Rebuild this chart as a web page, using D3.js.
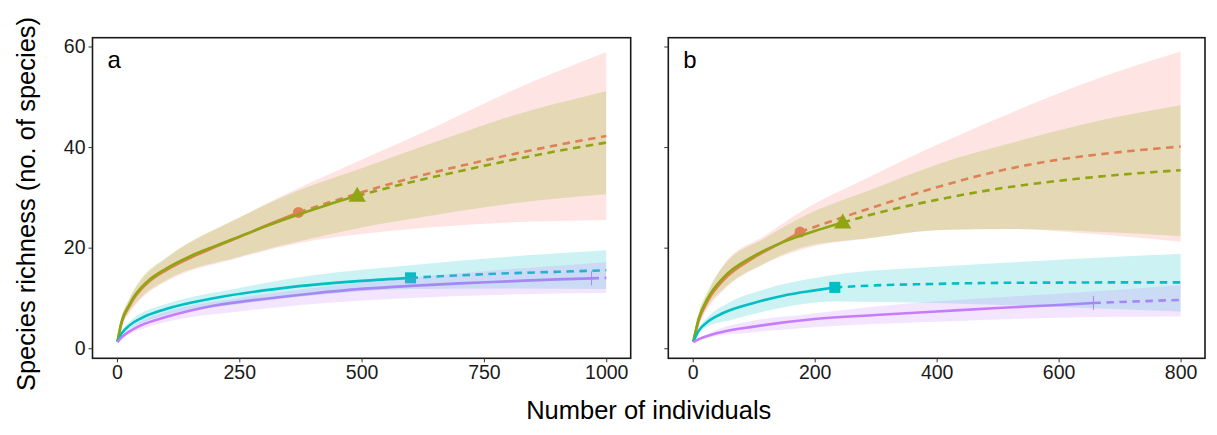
<!DOCTYPE html>
<html>
<head>
<meta charset="utf-8">
<script src="https://cdn.jsdelivr.net/npm/d3@7"></script>
<style>
  body { margin: 0; background: #fff; }
  svg { font-family: "Liberation Sans", Arial, sans-serif; }
</style>
</head>
<body>
<svg id="chart" width="1217" height="435"></svg>
<script>
// ---- colours (ggplot hue palette) ----
const groupColors = ['#F8766D', '#7CAE00', '#00BFC4', '#C77CFF'];
const groupShapes = ['circle', 'triangle', 'square', 'plus'];

// ---- panel a ----
const aXTicks = [0, 250, 500, 750, 1000];
// red
const aRedObsN = [1, 10, 25, 35, 50, 70, 100, 150, 200, 250, 300, 371];
const aRedObsS = [1.3, 5.2, 8.3, 10, 11.8, 13.6, 15.5, 18, 20.1, 22.1, 24.2, 27];
const aRedExtN = [371, 450, 500, 600, 700, 800, 900, 1000];
const aRedExtS = [27, 29.5, 31, 33.8, 36.2, 38.4, 40.4, 42.2];
const aRedBandN = [1, 10, 25, 50, 100, 250, 375, 500, 650, 800, 1000];
const aRedLo = [1.3, 4.4, 7, 9.9, 13.2, 18, 21, 22.7, 24.1, 25, 25.5];
const aRedHi = [1.3, 6, 9.6, 13.6, 17.8, 26, 32, 37.5, 44, 50.9, 58.9];
// green
const aGrnObsN = [1, 10, 25, 35, 50, 70, 100, 150, 200, 250, 300, 371, 430, 491];
const aGrnObsS = [1.3, 5.5, 8.6, 10.3, 12.1, 13.9, 15.8, 18.3, 20.3, 22.2, 24.1, 26.6, 28.5, 30.3];
const aGrnExtN = [491, 600, 700, 800, 900, 1000];
const aGrnExtS = [30.3, 33, 35.2, 37.3, 39.2, 40.9];
const aGrnBandN = [1, 10, 25, 50, 100, 250, 375, 500, 650, 800, 1000];
const aGrnLo = [1.3, 4.6, 7.3, 10.2, 13.5, 18.2, 21.3, 24, 26.5, 28.7, 30.6];
const aGrnHi = [1.3, 6.3, 9.9, 13.9, 18, 26, 31.5, 35.8, 41, 46, 51.1];
// cyan
const aCyaObsN = [1, 10, 25, 50, 100, 200, 300, 400, 500, 600];
const aCyaObsS = [1.3, 3, 4.5, 6, 7.8, 10, 11.5, 12.6, 13.4, 14];
const aCyaExtN = [600, 700, 800, 900, 1000];
const aCyaExtS = [14, 14.5, 14.9, 15.2, 15.5];
const aCyaBandN = [1, 10, 25, 50, 100, 250, 400, 600, 800, 1000];
const aCyaLo = [1.3, 2.6, 3.8, 5, 6.6, 8.8, 10.5, 11.8, 11.9, 11.8];
const aCyaHi = [1.3, 3.4, 5.2, 7, 8.8, 12, 14.5, 16.5, 18.2, 19.5];
// purple
const aPurObsN = [1, 10, 25, 50, 100, 200, 300, 400, 500, 600, 700, 800, 900, 970];
const aPurObsS = [1.2, 2.2, 3.3, 4.6, 6.2, 8.5, 9.8, 10.9, 11.8, 12.4, 12.9, 13.3, 13.7, 13.9];
const aPurExtN = [970, 1000];
const aPurExtS = [13.9, 14.0];
const aPurBandN = [1, 10, 25, 50, 100, 250, 400, 600, 800, 1000];
const aPurLo = [1.2, 1.9, 2.8, 3.8, 5.2, 7.3, 8.8, 10, 10.7, 11.0];
const aPurHi = [1.2, 2.5, 3.8, 5.4, 7.2, 10, 12, 14, 15.7, 17.1];

// ---- panel b ----
const bXTicks = [0, 200, 400, 600, 800];
const bRedObsN = [1, 10, 25, 50, 100, 150, 176];
const bRedObsS = [1.3, 5.5, 9.5, 13.5, 18, 21.3, 23.1];
const bRedExtN = [176, 250, 300, 400, 500, 600, 700, 800];
const bRedExtS = [23.1, 26.2, 28.2, 32, 35.2, 37.5, 39, 40.1];
const bRedBandN = [1, 10, 25, 50, 120, 178, 292, 407, 522, 636, 800];
const bRedLo = [1.3, 4.6, 8, 11.5, 16.9, 19.6, 21.9, 23.5, 23.7, 22.9, 21.2];
const bRedHi = [1.3, 6.4, 11, 16.5, 22.5, 27.2, 34.2, 40.8, 46.8, 52.4, 59.0];

const bGrnObsN = [1, 10, 25, 50, 100, 150, 200, 246];
const bGrnObsS = [1.3, 6, 10, 14, 18.3, 21.2, 23.3, 25];
const bGrnExtN = [246, 300, 400, 500, 600, 700, 800];
const bGrnExtS = [25, 26.8, 29.5, 31.7, 33.3, 34.5, 35.4];
const bGrnBandN = [1, 10, 25, 50, 120, 178, 292, 407, 522, 636, 800];
const bGrnLo = [1.3, 5, 8.5, 11.8, 17, 20, 21.9, 23.5, 23.7, 23.3, 22.3];
const bGrnHi = [1.3, 7, 11.5, 16.3, 22, 26, 31.5, 36.8, 40.8, 44.4, 48.3];

const bCyaObsN = [1, 10, 25, 50, 100, 150, 200, 233];
const bCyaObsS = [1.3, 3.5, 5.3, 7, 9, 10.5, 11.5, 12.1];
const bCyaExtN = [233, 300, 400, 500, 600, 700, 800];
const bCyaExtS = [12.1, 12.5, 12.8, 13, 13.05, 13.1, 13.1];
const bCyaBandN = [1, 10, 25, 63, 120, 233, 400, 600, 800];
const bCyaLo = [1.3, 3, 4.3, 5.6, 7.4, 9.3, 9.0, 8.2, 7.3];
const bCyaHi = [1.3, 4, 6.2, 9.3, 11.8, 14.6, 16.2, 17.6, 18.8];

const bPurObsN = [1, 10, 25, 50, 100, 200, 300, 400, 500, 600, 657];
const bPurObsS = [1.2, 1.8, 2.5, 3.3, 4.3, 5.8, 6.6, 7.3, 8, 8.6, 9.0];
const bPurExtN = [657, 700, 800];
const bPurExtS = [9.0, 9.2, 9.6];
const bPurBandN = [1, 25, 100, 178, 300, 407, 522, 657, 800];
const bPurLo = [1.2, 2.1, 3.2, 4.0, 4.8, 5.3, 5.8, 6.2, 6.3];
const bPurHi = [1.2, 2.9, 5.5, 6.6, 8.3, 9.4, 10.3, 11.3, 12.6];

const yTicks = [0, 20, 40, 60];

function zip(xs, ys) { return xs.map((x, i) => [x, ys[i]]); }
function band(xs, lo, hi) { return xs.map((x, i) => [x, lo[i], hi[i]]); }

function series(obsN, obsS, extN, extS, bandN, lo, hi) {
	return { obs: zip(obsN, obsS), ext: zip(extN, extS), band: band(bandN, lo, hi) };
}

const panelA = {
	label: 'a', xMax: 1000, ticks: aXTicks, left: 92.5, right: 630.7, showYLabels: true,
	groups: [
		series(aRedObsN, aRedObsS, aRedExtN, aRedExtS, aRedBandN, aRedLo, aRedHi),
		series(aGrnObsN, aGrnObsS, aGrnExtN, aGrnExtS, aGrnBandN, aGrnLo, aGrnHi),
		series(aCyaObsN, aCyaObsS, aCyaExtN, aCyaExtS, aCyaBandN, aCyaLo, aCyaHi),
		series(aPurObsN, aPurObsS, aPurExtN, aPurExtS, aPurBandN, aPurLo, aPurHi)
	]
};
const panelB = {
	label: 'b', xMax: 800, ticks: bXTicks, left: 668.3, right: 1205, showYLabels: false,
	groups: [
		series(bRedObsN, bRedObsS, bRedExtN, bRedExtS, bRedBandN, bRedLo, bRedHi),
		series(bGrnObsN, bGrnObsS, bGrnExtN, bGrnExtS, bGrnBandN, bGrnLo, bGrnHi),
		series(bCyaObsN, bCyaObsS, bCyaExtN, bCyaExtS, bCyaBandN, bCyaLo, bCyaHi),
		series(bPurObsN, bPurObsS, bPurExtN, bPurExtS, bPurBandN, bPurLo, bPurHi)
	]
};

const svg = d3.select('#chart');
const plotTop = 37.7, plotBottom = 358.3;
const tickFont = 19.5;

// shared y scale (ggplot 5% expansion around the data)
const yScale = d3.scaleLinear().domain([-2, 61.75]).range([plotBottom, plotTop]);

function drawPanel(p) {
	const xScale = d3.scaleLinear()
		.domain([-p.xMax * 0.05, p.xMax * 1.05])
		.range([p.left, p.right]);

	const g = svg.append('g');
	const clipId = 'clip-' + p.label;
	svg.append('clipPath').attr('id', clipId)
		.append('rect')
		.attr('x', p.left).attr('y', plotTop)
		.attr('width', p.right - p.left).attr('height', plotBottom - plotTop);

	const plot = g.append('g').attr('clip-path', `url(#${clipId})`);

	const line = d3.line()
		.x(d => xScale(d[0])).y(d => yScale(d[1]))
		.curve(d3.curveMonotoneX);
	const area = d3.area()
		.x(d => xScale(d[0])).y0(d => yScale(d[1])).y1(d => yScale(d[2]))
		.curve(d3.curveMonotoneX);

	// lines first, ribbons are painted over them (as in the original)
	p.groups.forEach(function(s, i){
		plot.append('path')
			.attr('d', line(s.ext))
			.attr('fill', 'none')
			.attr('stroke', groupColors[i])
			.attr('stroke-width', 2.6)
			.attr('stroke-dasharray', '7.5,5.5');
		plot.append('path')
			.attr('d', line(s.obs))
			.attr('fill', 'none')
			.attr('stroke', groupColors[i])
			.attr('stroke-width', 2.6);

		// marker at the observed sample size
		const last = s.obs[s.obs.length - 1];
		const mx = xScale(last[0]), my = yScale(last[1]);
		const shape = groupShapes[i];
		if (shape === 'circle') {
			plot.append('circle').attr('cx', mx).attr('cy', my).attr('r', 5.5)
				.attr('fill', groupColors[i]);
		} else if (shape === 'triangle') {
			plot.append('path')
				.attr('d', d3.symbol(d3.symbolTriangle, 130)())
				.attr('transform', `translate(${mx},${my + 1})`)
				.attr('fill', groupColors[i]);
		} else if (shape === 'square') {
			plot.append('rect').attr('x', mx - 5.5).attr('y', my - 5.5)
				.attr('width', 11).attr('height', 11)
				.attr('fill', groupColors[i]);
		} else {
			plot.append('path')
				.attr('d', `M${mx - 6},${my} L${mx + 6},${my} M${mx},${my - 7} L${mx},${my + 7}`)
				.attr('stroke', groupColors[i]).attr('stroke-width', 1);
		}
	});

	p.groups.forEach(function(s, i){
		plot.append('path')
			.attr('d', area(s.band))
			.attr('fill', groupColors[i])
			.attr('fill-opacity', 0.2);
	});

	// frame
	g.append('rect')
		.attr('x', p.left).attr('y', plotTop)
		.attr('width', p.right - p.left).attr('height', plotBottom - plotTop)
		.attr('fill', 'none').attr('stroke', '#1a1a1a').attr('stroke-width', 1.6);

	// axes
	const xAxis = d3.axisBottom(xScale).tickValues(p.ticks).tickFormat(d3.format('d'))
		.tickSize(4).tickPadding(2.5);
	const gx = g.append('g').attr('transform', `translate(0,${plotBottom})`).call(xAxis);
	gx.select('.domain').remove();
	gx.selectAll('.tick line').attr('stroke', '#333');
	gx.selectAll('.tick text').attr('font-size', tickFont).attr('fill', '#1a1a1a')
		.attr('font-family', '"Liberation Sans", Arial, sans-serif');

	const yAxis = d3.axisLeft(yScale).tickValues(yTicks).tickSize(4).tickPadding(3);
	if (!p.showYLabels) yAxis.tickFormat('');
	const gy = g.append('g').attr('transform', `translate(${p.left},0)`).call(yAxis);
	gy.select('.domain').remove();
	gy.selectAll('.tick line').attr('stroke', '#333');
	gy.selectAll('.tick text').attr('font-size', tickFont).attr('fill', '#1a1a1a')
		.attr('font-family', '"Liberation Sans", Arial, sans-serif');

	// panel tag
	g.append('text')
		.attr('x', p.left + 15).attr('y', plotTop + 30)
		.attr('font-size', 24).attr('fill', '#000')
		.text(p.label);
}

drawPanel(panelA);
drawPanel(panelB);

// axis titles
svg.append('text')
	.attr('x', (panelA.left + panelB.right) / 2).attr('y', 419)
	.attr('text-anchor', 'middle')
	.attr('font-size', 25.5).attr('fill', '#000')
	.text('Number of individuals');

svg.append('text')
	.attr('transform', `translate(35,204) rotate(-90)`)
	.attr('text-anchor', 'middle')
	.attr('font-size', 25.5).attr('fill', '#000')
	.text('Species richness (no. of species)');
</script>
</body>
</html>
